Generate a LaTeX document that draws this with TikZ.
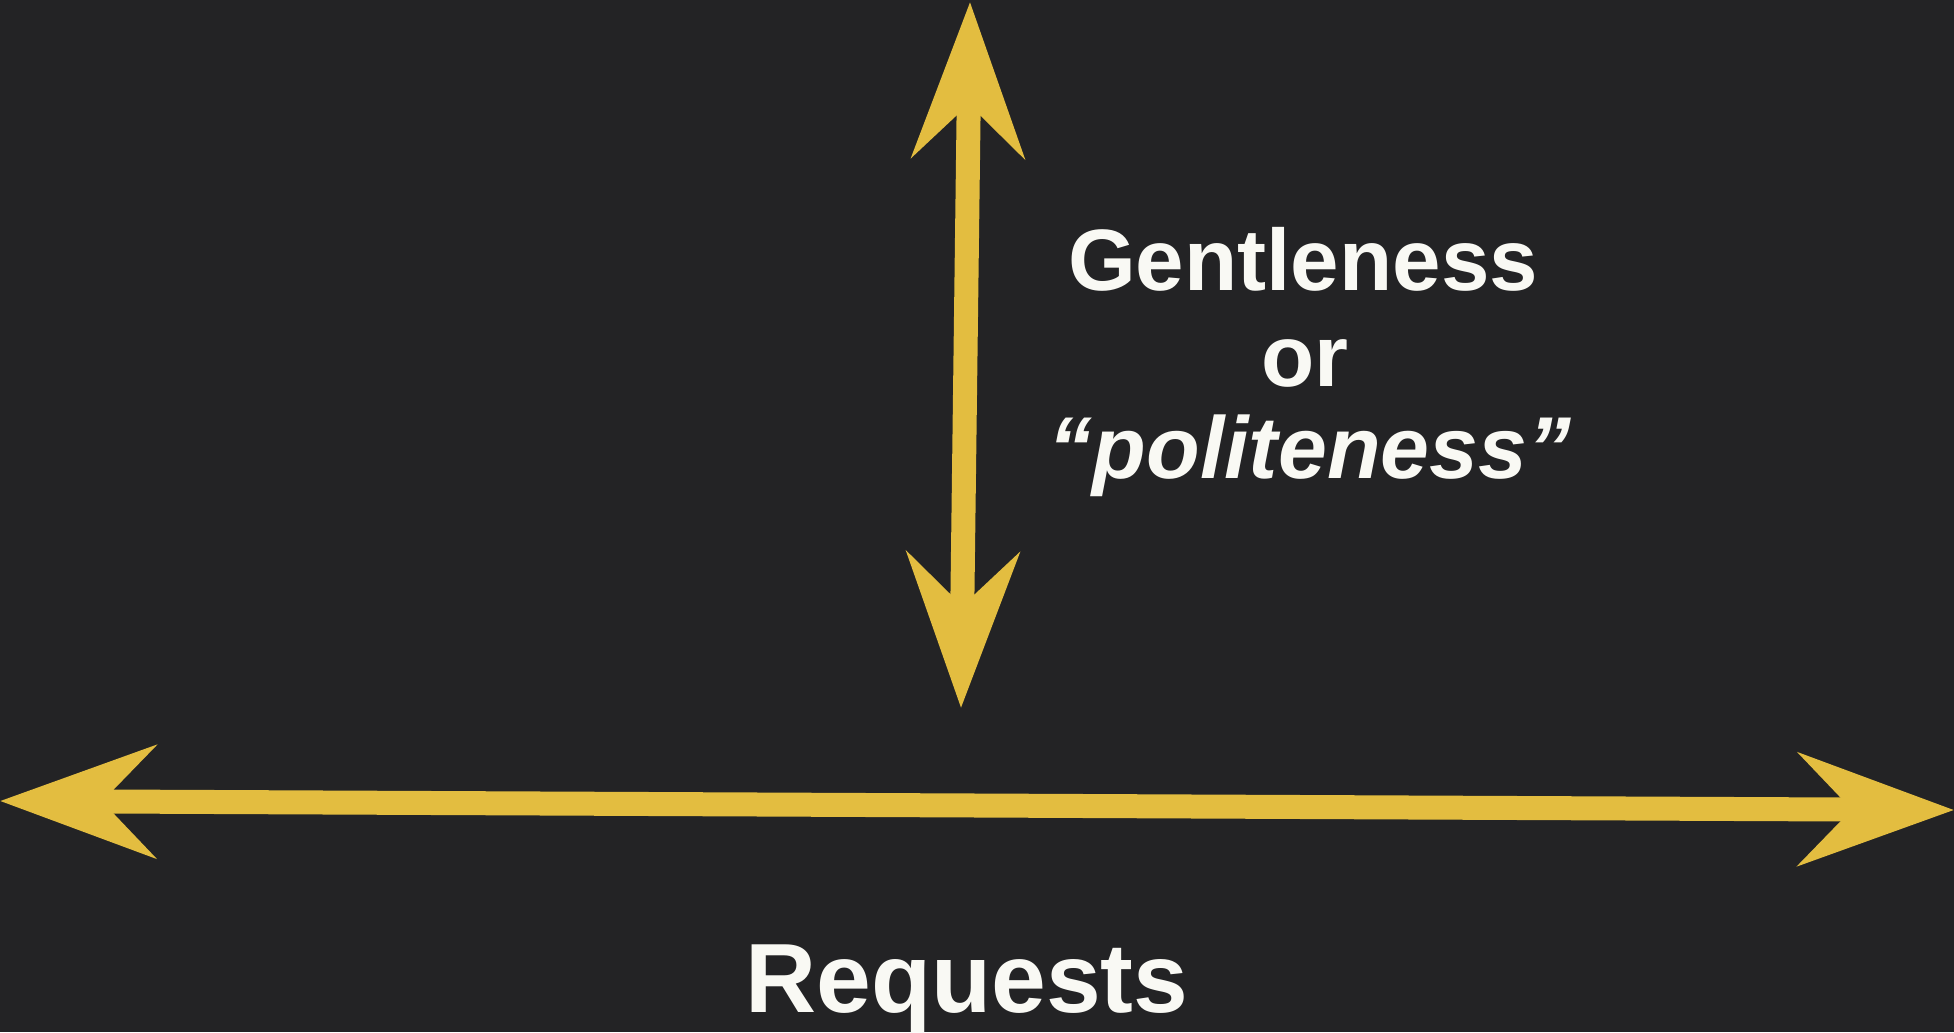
\documentclass[tikz,border=0pt]{standalone}
\usepackage{fontspec}
\setmainfont{Liberation Sans}
\usepackage{tikz}
\usetikzlibrary{arrows.meta}

\definecolor{bgdark}{RGB}{35,35,37}
\definecolor{axisgold}{RGB}{227,189,64}
\definecolor{txtwhite}{RGB}{249,249,244}

\begin{document}
\begin{tikzpicture}
  \tikzset{AXIS/.style={draw=axisgold, line width=0.24cm, <->,
      >={Stealth[length=1.55cm, width=1.12cm, inset=0.53cm]}} }
  \tikzset{LBL/.style={text=txtwhite, anchor=base, inner sep=0pt, font=\bfseries\fontsize{24.8pt}{27pt}\selectfont} }

  \fill[bgdark] (0,0) rectangle (19.54,10.32);
  \useasboundingbox (0,0) rectangle (19.54,10.32);

  \coordinate (vtop) at (9.70,10.30);
  \coordinate (vbot) at (9.61,3.24);
  \coordinate (hleft) at (0.0,2.31);
  \coordinate (hright) at (19.54,2.22);

  \draw[AXIS] (vbot) -- (vtop);
  \draw[AXIS] (hleft) -- (hright);

  \node[LBL] (gentle) at (13.03,7.42) {Gentleness};
  \node[LBL] (orword) at (13.05,6.46) {or};
  \node[LBL, font=\bfseries\itshape\fontsize{25pt}{27pt}\selectfont] (polite) at (13.10,5.54) {“politeness”};

  \node[LBL, font=\bfseries\fontsize{28pt}{30pt}\selectfont] (requests) at (9.67,0.20) {Requests};
\end{tikzpicture}
\end{document}
